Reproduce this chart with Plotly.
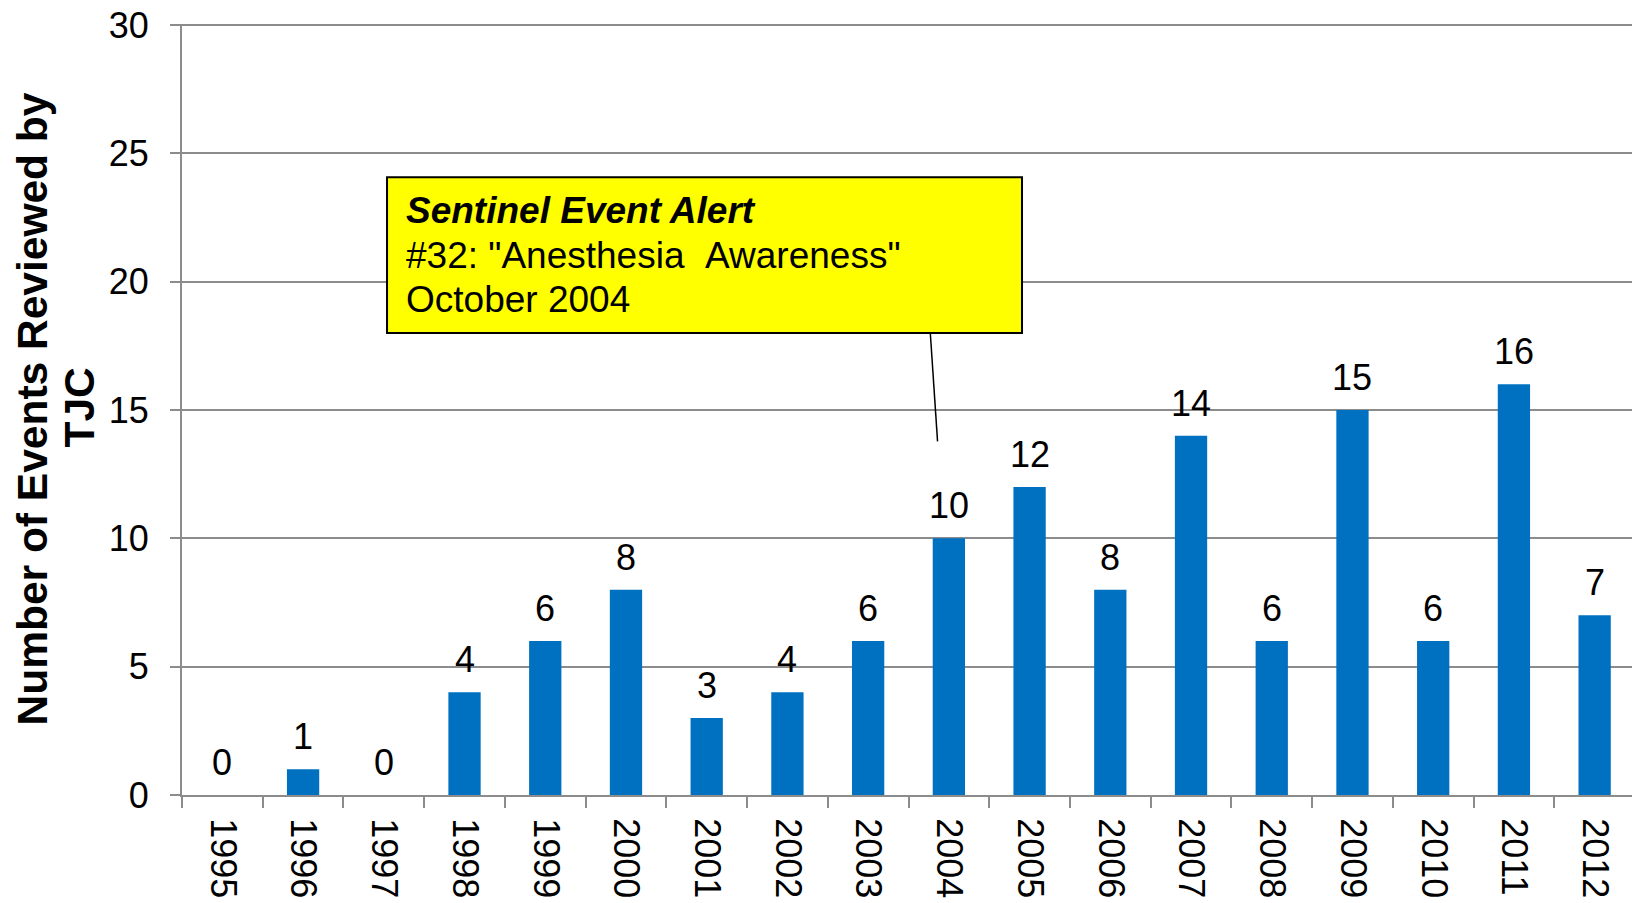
import plotly.graph_objects as go

years = [str(y) for y in range(1995, 2013)]
events = [0, 1, 0, 4, 6, 8, 3, 4, 6, 10, 12, 8, 14, 6, 15, 6, 16, 7]

y_title_line1 = "Number of Events Reviewed by"
y_title_line2 = "TJC"
box_lines = ["<b><i>Sentinel Event Alert</i></b>",
             "#32: \"Anesthesia\u00a0\u00a0Awareness\"",
             "October 2004"]

FONT = "Liberation Sans, Arial, sans-serif"
GRID = "#8c8c8c"

fig = go.Figure()
fig.add_trace(go.Bar(x=years, y=events, marker_color="#0070C0",
                     marker_line_width=0, width=0.4))

annotations = []
for i, v in enumerate(events):
    annotations.append(dict(x=i, y=v, xref="x", yref="y", text=str(v),
                            showarrow=False, yanchor="bottom", yshift=10,
                            font=dict(size=36, color="black", family=FONT)))

# y-axis title (two lines)
annotations.append(dict(x=0, y=0.5, xref="paper", yref="paper", text="<b>" + y_title_line1 + "</b>",
                        showarrow=False, textangle=-90, xanchor="center", yanchor="middle",
                        xshift=-150, font=dict(size=42.5, color="black", family=FONT)))
annotations.append(dict(x=0, y=0.5, xref="paper", yref="paper", text="<b>" + y_title_line2 + "</b>",
                        showarrow=False, textangle=-90, xanchor="center", yanchor="middle",
                        xshift=-103, yshift=2, font=dict(size=42.5, color="black", family=FONT)))

# callout box text
for txt, yy in zip(box_lines, [22.79, 21.03, 19.3]):
    annotations.append(dict(x=2.25, y=yy, xref="x", yref="y", text=txt, showarrow=False,
                            xanchor="left", yanchor="middle", align="left",
                            font=dict(size=37, color="black", family=FONT)))

shapes = [
    dict(type="rect", xref="x", yref="y", x0=2.04, x1=9.906, y0=18.0, y1=24.07,
         fillcolor="#FFFF00", line=dict(color="black", width=2), layer="above"),
    dict(type="line", xref="x", yref="y", x0=8.77, y0=18.0, x1=8.86, y1=13.78,
         line=dict(color="black", width=1.5)),
]

fig.update_layout(
    width=1640, height=903,
    margin=dict(l=174, r=13, t=16, b=116),
    plot_bgcolor="white", paper_bgcolor="white",
    showlegend=False,
    bargap=0.6,
    font=dict(family=FONT, size=36, color="black"),
    annotations=annotations,
    shapes=shapes,
)
fig.update_xaxes(type="category", tickangle=90, ticks="outside", tickson="boundaries",
                 ticklen=11, tickwidth=2, tickcolor=GRID, showline=True, linecolor=GRID,
                 linewidth=2, showgrid=False, tickfont=dict(size=36, family=FONT),
                 ticklabelstandoff=14, ticklabeloverflow="allow",
                 range=[-0.5, 17.5], automargin=False)
fig.update_yaxes(range=[0, 30.04], tickvals=[0, 5, 10, 15, 20, 25, 30], ticks="outside",
                 ticklen=10, tickwidth=2,
                 tickcolor=GRID, showline=True, linecolor=GRID, linewidth=2,
                 showgrid=True, gridcolor=GRID, gridwidth=2, zeroline=False,
                 tickfont=dict(size=36, family=FONT), ticklabelstandoff=14,
                 ticklabeloverflow="allow", automargin=False)

fig.write_html("out.html")
